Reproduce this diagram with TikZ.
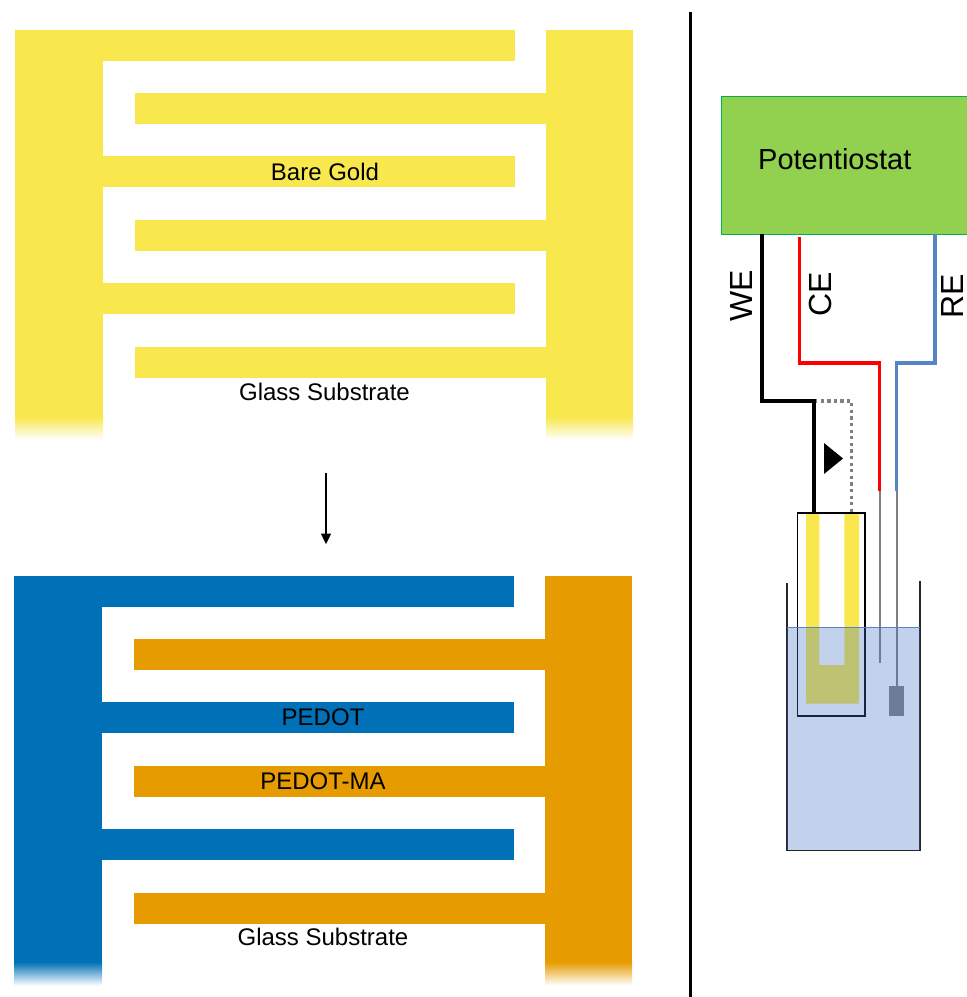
\documentclass[tikz,border=0pt]{standalone}
\usepackage{fontspec}
\setmainfont{Liberation Sans}
\usetikzlibrary{arrows.meta, positioning, calc}

\definecolor{goldYellow}{HTML}{F8E84E}
\definecolor{pedotBlue}{HTML}{0070B7}
\definecolor{pedotOrange}{HTML}{E69B00}
\definecolor{potGreen}{HTML}{92D050}
\definecolor{potEdge}{HTML}{00B050}
\definecolor{waterBlue}{HTML}{4472C4}
\definecolor{reBlue}{HTML}{5585C5}
\definecolor{refBody}{HTML}{838382}

\begin{document}
\begin{tikzpicture}[
		x=1pt, y=-1pt,
		% Text
		combLabel/.style={font=\fontsize{24}{28}\selectfont, inner sep=0pt},
		potLabel/.style={font=\fontsize{29}{34}\selectfont, inner sep=0pt},
		wireLabel/.style={font=\fontsize{32}{36}\selectfont, inner sep=0pt, rotate=90},
		% Wires
		wire/.style={line width=3.2pt, line join=miter},
		thinWire/.style={line width=2pt, draw=gray},
		% Electrode holder and beaker
		holderBox/.style={draw=black, line width=1.8pt, minimum width=67.5pt, minimum height=203pt, inner sep=0pt},
		beakerWall/.style={draw=black!85, line width=1.8pt},
		potBoxStyle/.style={fill=potGreen, draw=potEdge, line width=1pt, minimum width=249pt, minimum height=138pt, inner sep=0pt}
		]
		\useasboundingbox (0,0) rectangle (967,997);
		
		% ==============================================================================
		% LEFT: the two combs
		% ==============================================================================
		\foreach \dx/\dy/\colA/\colB in {0/0/goldYellow/goldYellow, -1/545.5/pedotBlue/pedotOrange} {
			\begin{scope}[shift={(\dx,\dy)}]
				% Left comb
				\fill[\colA] (15,30) rectangle (103,417);
				\shade[top color=\colA, bottom color=white] (15,416.5) rectangle (103,440);
				\foreach \yy in {30,156,283} {
					\fill[\colA] (100,\yy) rectangle (515,\yy+31);
				}
				% Right comb
				\fill[\colB] (546,30) rectangle (633,417);
				\shade[top color=\colB, bottom color=white] (546,416.5) rectangle (633,440);
				\foreach \yy in {93,220,347} {
					\fill[\colB] (135,\yy) rectangle (549,\yy+31);
				}
			\end{scope}
		}
		
		\node[combLabel] (bareGold) at (325,172) {Bare Gold};
		\node[combLabel] (glassTop) at (324.5,392) {Glass Substrate};
		\node[combLabel] (pedot) at (323,717) {PEDOT};
		\node[combLabel] (pedotMa) at (323,781) {PEDOT-MA};
		\node[combLabel] (glassBottom) at (323,937) {Glass Substrate};
		
		\coordinate (arrowStart) at (326,473);
		\coordinate (arrowEnd) at (326,544.5);
		\draw[line width=2.8pt, -{Triangle[length=11pt, width=9.5pt]}] (arrowStart) -- (arrowEnd);
		
		% Divider
		\coordinate (dividerTop) at (690,12);
		\coordinate (dividerBottom) at (690,997);
		\draw[line width=3pt] (dividerTop) -- (dividerBottom);
		
		% ==============================================================================
		% RIGHT: the cell
		% ==============================================================================
		\node[potBoxStyle] (potBox) at (845.5,165) {};
		\node[potLabel, anchor=west] (potText) at (758,159) {Potentiostat};
		
		% Gold electrode on its holder
		\fill[goldYellow] (806,513) -- (819.3,513) -- (819.3,665) -- (844.3,665) -- (844.3,513)
			-- (859,513) -- (859,703.5) -- (806,703.5) -- cycle;
		\node[holderBox] (holder) at (831.25,614.5) {};
		
		% Beaker
		\coordinate (beakerLeft) at (787,583);
		\coordinate (beakerRight) at (920,581);
		\coordinate (beakerBaseL) at (787,850.5);
		\coordinate (beakerBaseR) at (920,850.5);
		\draw[beakerWall] (beakerLeft) -- (beakerBaseL) -- (beakerBaseR) -- (beakerRight);
		
		% WE
		\coordinate (weTop) at (762,234);
		\coordinate (weKnee) at (762,401);
		\coordinate (weJoin) at (814,401);
		\coordinate (weDot) at (851.5,401);
		\draw[line width=3.2pt, draw=gray, dash pattern=on 3.3pt off 3.3pt] (weJoin) -- (weDot) -- (weDot |- holder.north);
		\draw[wire, black] (weTop) -- (weKnee) -- (weJoin) -- (weJoin |- holder.north);
		\node[wireLabel] (weText) at (741,296) {WE};
		
		% CE
		\coordinate (ceTop) at (799.5,237);
		\coordinate (ceKnee) at (799.5,363);
		\coordinate (ceDrop) at (879.5,363);
		\coordinate (ceEnd) at (879.5,491);
		\coordinate (ceTip) at (879.5,663);
		\draw[wire, red] (ceTop) -- (ceKnee) -- (ceDrop) -- (ceEnd);
		\draw[thinWire] (ceEnd) -- (ceTip);
		\node[wireLabel] (ceText) at (820,294) {CE};
		
		% RE
		\coordinate (reTop) at (935,234);
		\coordinate (reKnee) at (935,363);
		\coordinate (reDrop) at (896.5,363);
		\coordinate (reEnd) at (896.5,491);
		\draw[wire, reBlue] (reTop) -- (reKnee) -- (reDrop) -- (reEnd);
		\fill[refBody] (889,686) rectangle (903.5,715.5);
		\coordinate (reBody) at (896.5,686);
		\draw[thinWire] (reEnd) -- (reBody);
		\node[wireLabel] (reText) at (952.5,296.5) {RE};
		
		% Current direction
		\fill[black] (824,443) -- (843,458.5) -- (824,474) -- cycle;
		
		% Electrolyte, on top of everything it covers
		\fill[waterBlue, opacity=0.32] (787,627) rectangle (920,850);
		\draw[reBlue, line width=0.8pt] (787,627) -- (920,627);
	\end{tikzpicture}
\end{document}
